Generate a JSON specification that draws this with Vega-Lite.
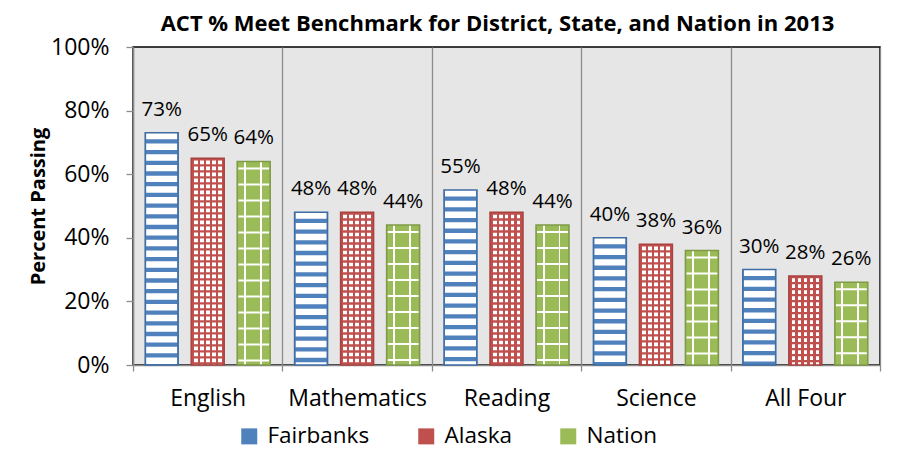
{
  "$schema": "https://vega.github.io/schema/vega-lite/v6.json",
  "width": 747,
  "height": 318,
  "autosize": {"type": "none"},
  "padding": {"left": 133, "top": 47, "right": 19, "bottom": 87},
  "background": "white",
  "title": {"text": "ACT % Meet Benchmark for District, State, and Nation in 2013", "fontSize": 22, "fontWeight": "bold", "font": "Open Sans", "color": "black", "offset": 0, "anchor": "middle", "dx": -9},
  "config": {
    "font": "Open Sans",
    "view": {"fill": "#E6E6E6", "stroke": "black", "strokeWidth": 1.5}
  },
  "data": {"values": [
    {"subject": "English", "group": "Fairbanks", "value": 0.73},
    {"subject": "English", "group": "Alaska", "value": 0.65},
    {"subject": "English", "group": "Nation", "value": 0.64},
    {"subject": "Mathematics", "group": "Fairbanks", "value": 0.48},
    {"subject": "Mathematics", "group": "Alaska", "value": 0.48},
    {"subject": "Mathematics", "group": "Nation", "value": 0.44},
    {"subject": "Reading", "group": "Fairbanks", "value": 0.55},
    {"subject": "Reading", "group": "Alaska", "value": 0.48},
    {"subject": "Reading", "group": "Nation", "value": 0.44},
    {"subject": "Science", "group": "Fairbanks", "value": 0.40},
    {"subject": "Science", "group": "Alaska", "value": 0.38},
    {"subject": "Science", "group": "Nation", "value": 0.36},
    {"subject": "All Four", "group": "Fairbanks", "value": 0.30},
    {"subject": "All Four", "group": "Alaska", "value": 0.28},
    {"subject": "All Four", "group": "Nation", "value": 0.26}
  ]},
  "encoding": {
    "x": {"field": "subject", "type": "nominal", "sort": ["English", "Mathematics", "Reading", "Science", "All Four"],
      "scale": {"paddingInner": 0, "paddingOuter": 0},
      "axis": {"title": null, "labelAngle": 0, "labelFontSize": 23, "labelColor": "black", "tickBand": "extent", "grid": true, "gridColor": "#8C8C8C", "gridWidth": 1.3, "tickColor": "#8C8C8C", "tickSize": 6, "tickWidth": 1.3, "domainColor": "#8C8C8C", "domainWidth": 1.5, "labelPadding": 16}},
    "xOffset": {"field": "group", "type": "nominal", "sort": ["Fairbanks", "Alaska", "Nation"],
      "scale": {"domain": ["Fairbanks", "Alaska", "Nation"], "paddingInner": 0.283, "paddingOuter": 0.265}},
    "y": {"field": "value", "type": "quantitative", "scale": {"domain": [0, 1]},
      "axis": {"title": "Percent Passing", "titleFontSize": 20, "titleFontWeight": "bold", "titleColor": "black", "values": [0, 0.2, 0.4, 0.6, 0.8, 1], "format": ".0%", "labelFontSize": 23, "labelColor": "black", "tickColor": "#8C8C8C", "tickSize": 7, "tickWidth": 1.3, "domainColor": "#8C8C8C", "domainWidth": 1.5, "grid": false, "labelPadding": 17, "titlePadding": 2}}
  },
  "layer": [
    {
      "mark": {"type": "bar"},
      "encoding": {
        "fill": {"field": "group", "type": "nominal",
          "scale": {"domain": ["Fairbanks", "Alaska", "Nation"], "range": ["#4F81BD", "#C0504D", "#9BBB59"]},
          "legend": {"title": null, "orient": "none", "legendX": 105, "legendY": 378, "direction": "horizontal", "symbolType": "square", "symbolSize": 256, "symbolStrokeWidth": 0, "labelFontSize": 22.5, "labelColor": "black", "columnPadding": 45, "labelOffset": 7, "padding": 0},
          "condition": [
            {"test": "datum.group === 'Alaska'", "value": {"gradient": "linear", "x1": 0, "y1": 0, "x2": 1, "y2": 0, "stops": [
              {"offset": 0, "color": "#C0504D"}, {"offset": 0.0833, "color": "#C0504D"},
              {"offset": 0.0833, "color": "#FFFFFF"}, {"offset": 0.1970, "color": "#FFFFFF"},
              {"offset": 0.1970, "color": "#C0504D"}, {"offset": 0.2652, "color": "#C0504D"},
              {"offset": 0.2652, "color": "#FFFFFF"}, {"offset": 0.3788, "color": "#FFFFFF"},
              {"offset": 0.3788, "color": "#C0504D"}, {"offset": 0.4470, "color": "#C0504D"},
              {"offset": 0.4470, "color": "#FFFFFF"}, {"offset": 0.5606, "color": "#FFFFFF"},
              {"offset": 0.5606, "color": "#C0504D"}, {"offset": 0.6288, "color": "#C0504D"},
              {"offset": 0.6288, "color": "#FFFFFF"}, {"offset": 0.7424, "color": "#FFFFFF"},
              {"offset": 0.7424, "color": "#C0504D"}, {"offset": 0.8106, "color": "#C0504D"},
              {"offset": 0.8106, "color": "#FFFFFF"}, {"offset": 0.9242, "color": "#FFFFFF"},
              {"offset": 0.9242, "color": "#C0504D"}, {"offset": 1, "color": "#C0504D"}
            ]}},
            {"test": "datum.group === 'Nation'", "value": {"gradient": "linear", "x1": 0, "y1": 0, "x2": 1, "y2": 0, "stops": [
              {"offset": 0, "color": "#9BBB59"}, {"offset": 0.197, "color": "#9BBB59"},
              {"offset": 0.197, "color": "#FFFFFF"}, {"offset": 0.258, "color": "#FFFFFF"},
              {"offset": 0.258, "color": "#9BBB59"}, {"offset": 0.682, "color": "#9BBB59"},
              {"offset": 0.682, "color": "#FFFFFF"}, {"offset": 0.742, "color": "#FFFFFF"},
              {"offset": 0.742, "color": "#9BBB59"}, {"offset": 1, "color": "#9BBB59"}
            ]}}
          ]
        }
      }
    },
    {
      "transform": [{"filter": "datum.group === 'Fairbanks'"}],
      "mark": {"type": "rule", "stroke": "#FFFFFF", "strokeWidth": 31, "strokeDash": [6.4, 4.3]},
      "encoding": {"y2": {"datum": 0}}
    },
    {
      "transform": [{"filter": "datum.group === 'Alaska'"}],
      "mark": {"type": "rule", "stroke": "#C0504D", "strokeWidth": 31, "strokeDash": [2.3, 3.7]},
      "encoding": {"y2": {"datum": 0}}
    },
    {
      "transform": [{"filter": "datum.group === 'Nation'"}],
      "mark": {"type": "rule", "stroke": "#FFFFFF", "strokeWidth": 31, "strokeDash": [2, 14], "strokeDashOffset": 10},
      "encoding": {"y2": {"datum": 0}}
    },
    {
      "mark": {"type": "bar", "fill": "transparent", "strokeWidth": 1.5},
      "encoding": {
        "stroke": {"condition": [
          {"test": "datum.group === 'Fairbanks'", "value": "#3E6DA5"},
          {"test": "datum.group === 'Alaska'", "value": "#A8423F"}
        ], "value": "#7E9A46"}
      }
    },
    {
      "mark": {"type": "text", "baseline": "alphabetic", "dy": -17, "fontSize": 20.5, "color": "black"},
      "encoding": {"text": {"field": "value", "type": "quantitative", "format": ".0%"}}
    }
  ]
}
